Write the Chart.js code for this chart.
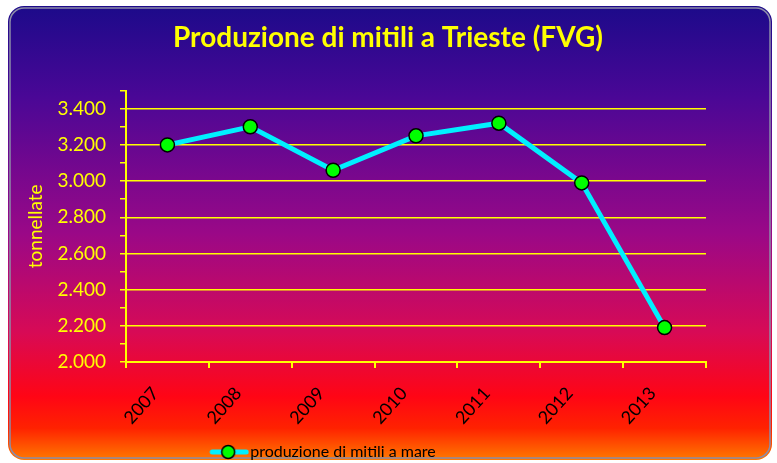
<!DOCTYPE html>
<html>
<head>
<meta charset="utf-8">
<script src="https://cdn.jsdelivr.net/npm/chart.js@4/dist/chart.umd.min.js"></script>
<style>
  html, body { margin: 0; padding: 0; background: #fff; }
  #wrap { width: 777px; height: 463px; }
</style>
</head>
<body>
<div id="wrap"><canvas id="grafico"></canvas></div>
<script>
// dati
let anni = ['2007', '2008', '2009', '2010', '2011', '2012', '2013'];
let produzione = [3200, 3300, 3060, 3250, 3320, 2990, 2190];
let nomeSerie = 'produzione di mitili a mare';
let titolo = 'Produzione di mitili a Trieste (FVG)';
let yMin = 2000, yMax = 3500, yPasso = 100;

const GIALLO = '#ffff00';
const CIANO = '#00f0ff';
const VERDE = '#00ff00';
const FONT = "Lato, 'Liberation Sans', sans-serif";

function formatta(v) {
    // 3400 -> "3.400"
    return Math.floor(v / 1000) + '.' + String(v % 1000).padStart(3, '0');
}

// simbolo della legenda: linea + pallino (spostato a destra per ridurre lo spazio dal testo)
function simboloLegenda() {
    const c = document.createElement('canvas');
    c.width = 54; c.height = 18;
    const g = c.getContext('2d');
    g.strokeStyle = CIANO; g.lineWidth = 5; g.lineCap = 'round';
    g.beginPath(); g.moveTo(17, 9); g.lineTo(51, 9); g.stroke();
    g.fillStyle = VERDE; g.strokeStyle = '#000'; g.lineWidth = 1.5;
    g.beginPath(); g.arc(33, 9, 6.5, 0, Math.PI * 2); g.fill(); g.stroke();
    return c;
}

// sfondo arrotondato con gradiente
const sfondo = {
    id: 'sfondo',
    beforeDraw(chart) {
        const ctx = chart.ctx;
        const x = 8, y = 6, w = 764, h = 454, r = 16;
        ctx.save();
        ctx.fillStyle = '#fff';
        ctx.fillRect(0, 0, chart.width, chart.height);
        const grad = ctx.createLinearGradient(0, y, 0, y + h);
        grad.addColorStop(0, '#1c0a8a');
        grad.addColorStop(0.2, '#4a0796');
        grad.addColorStop(0.5, '#9a0887');
        grad.addColorStop(0.72, '#d80a55');
        grad.addColorStop(0.86, '#ff0515');
        grad.addColorStop(0.93, '#ff2200');
        grad.addColorStop(1, '#ff7a00');
        ctx.beginPath();
        ctx.roundRect(x, y, w, h, r);
        ctx.fillStyle = grad;
        ctx.fill();
        ctx.lineWidth = 1.5;
        ctx.strokeStyle = '#8c8ca8';
        ctx.beginPath();
        ctx.roundRect(x + 2, y + 2, w - 4, h - 4, r - 2);
        ctx.stroke();
        ctx.restore();
    },
    afterLayout(chart) {
        // legenda e titolo spostati come nell'originale
        chart.legend.left -= 44;
        chart.legend.right -= 44;
        chart.legend.top += 7;
        chart.legend.bottom += 7;
        chart.titleBlock.left += 25;
        chart.titleBlock.right += 25;
    }
};

const ctx = document.getElementById('grafico').getContext('2d');
const chart = new Chart(ctx, {
    type: 'line',
    data: {
        labels: anni,
        datasets: [{
            label: nomeSerie,
            data: produzione,
            borderColor: CIANO,
            borderWidth: 5,
            pointBackgroundColor: VERDE,
            pointBorderColor: '#000',
            pointBorderWidth: 1.5,
            pointRadius: 7,
            pointHoverRadius: 7,
            tension: 0
        }]
    },
    options: {
        responsive: true,
        maintainAspectRatio: false,
        animation: false,
        layout: { padding: { left: 20, right: 71, top: 8, bottom: 0 } },
        plugins: {
            title: {
                display: true,
                text: titolo,
                color: GIALLO,
                font: { family: FONT, size: 28, weight: 'bold' },
                padding: { top: 13, bottom: 36 }
            },
            legend: {
                position: 'bottom',
                labels: {
                    color: '#000',
                    font: { family: FONT, size: 16 },
                    usePointStyle: true,
                    pointStyleWidth: 40,
                    padding: 5,
                    generateLabels(chart) {
                        const items = Chart.defaults.plugins.legend.labels.generateLabels(chart);
                        items.forEach(it => { it.pointStyle = simboloLegenda(); });
                        return items;
                    }
                }
            },
            tooltip: { enabled: false }
        },
        scales: {
            x: {
                offset: true,
                grid: { offset: true, drawOnChartArea: false, tickColor: GIALLO, tickLength: 6, lineWidth: 2 },
                border: { color: GIALLO, width: 2 },
                ticks: {
                    color: '#000',
                    minRotation: 48, maxRotation: 48,
                    labelOffset: -12,
                    padding: 15,
                    font: { family: FONT, size: 18 }
                },
                afterFit(scale) { scale.height = 70; }
            },
            y: {
                min: yMin, max: yMax,
                grid: {
                    color: c => (c.tick && c.tick.value % 200 === 0 && c.tick.value < yMax) ? GIALLO : 'transparent',
                    tickColor: GIALLO,
                    tickLength: 6,
                    lineWidth: 1.5
                },
                border: { color: GIALLO, width: 2 },
                ticks: {
                    stepSize: yPasso,
                    autoSkip: false,
                    color: GIALLO,
                    padding: 14,
                    font: { family: FONT, size: 19 },
                    callback: v => (v % 200 === 0 && v < yMax) ? formatta(v) : ''
                },
                title: {
                    display: true,
                    text: 'tonnellate',
                    color: GIALLO,
                    font: { family: FONT, size: 19 },
                    padding: { top: 4, bottom: 4 }
                },
                afterFit(scale) { scale.width = 106; }
            }
        }
    },
    plugins: [sfondo]
});
</script>
</body>
</html>
